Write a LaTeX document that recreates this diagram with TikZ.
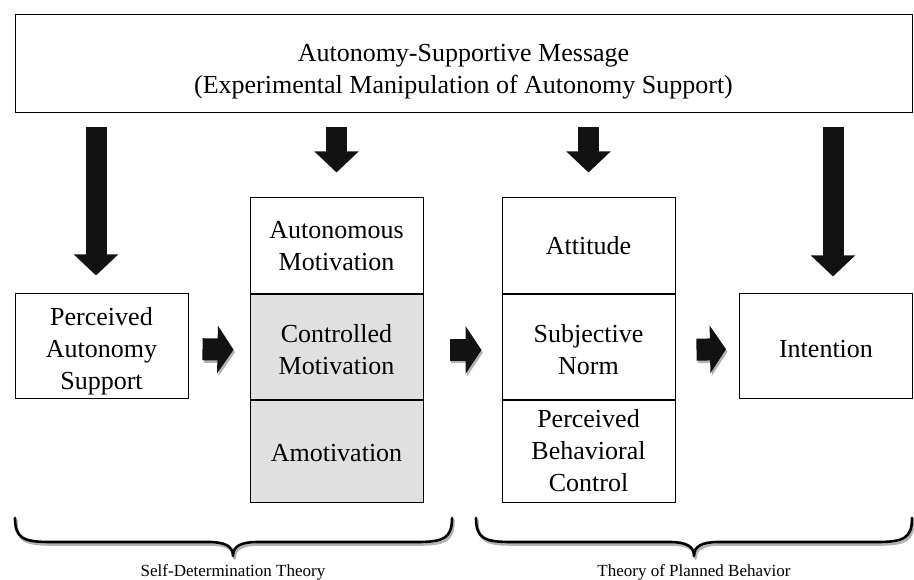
\documentclass[tikz,border=0pt]{standalone}
\usepackage{fontspec}
\setmainfont{Liberation Serif}
\usetikzlibrary{positioning, arrows.meta}

\newcommand{\lifted}[1]{\rule{0pt}{#1}}

\begin{document}
\begin{tikzpicture}[x=1pt, y=-1pt,
    box/.style={draw, line width=1pt, inner sep=0pt, minimum width=173pt, minimum height=104pt, align=center, font=\fontsize{26}{32}\selectfont},
    greybox/.style={box, fill=black!12},
    vfat/.style={line width=21pt, color=black!93, -{Triangle[length=21pt, width=43pt]}},
    hfat/.style={line width=22pt, color=black!93, -{Triangle[length=16pt, width=47pt]}},
    theory/.style={line width=2.6pt, line cap=round, line join=round},
    theorylabel/.style={font=\fontsize{17}{20}\selectfont}]
    \useasboundingbox (0,0) rectangle (914,580);

    \node[box, minimum width=897pt, minimum height=98pt] (msg) at (463.5,64) {\lifted{32pt}Autonomy-Supportive Message\\(Experimental Manipulation of Autonomy Support)};
    \node[box] (pas) at (101.5,346) {\lifted{28pt}Perceived\\Autonomy\\Support};
    \node[box, minimum height=96pt] (am) at (336.5,246) {Autonomous\\Motivation};
    \node[greybox, below=0pt of am] (cm) {\lifted{24pt}Controlled\\Motivation};
    \node[greybox, minimum height=102pt, below=0pt of cm] (amot) {\lifted{22pt}Amotivation};
    \node[box, minimum height=96pt, right=78pt of am] (att) {Attitude};
    \node[box, below=0pt of att] (sn) {\lifted{24pt}Subjective\\Norm};
    \node[box, minimum height=102pt, below=0pt of sn] (pbc) {Perceived\\Behavioral\\Control};
    \node[box] (int) at (826,346) {\lifted{24pt}Intention};

    % arrows out of the message
    \coordinate (pasin) at ([xshift=-5.5pt]pas.north);
    \coordinate (intin) at ([xshift=7pt]int.north);
    \draw[vfat, shorten <=14pt, shorten >=18pt] (msg.south -| pasin) -- (pasin);
    \draw[vfat, shorten <=14pt, shorten >=25pt] (msg.south -| am.north) -- (am.north);
    \draw[vfat, shorten <=14pt, shorten >=25pt] (msg.south -| att.north) -- (att.north);
    \draw[vfat, shorten <=14pt, shorten >=17pt] (msg.south -| intin) -- (intin);

    % arrows along the chain
    \foreach \a/\b/\s/\e in {pas/cm/14pt/16pt, cm/sn/26pt/20pt, sn/int/21pt/13pt} {
      \draw[hfat, black!30, transform canvas={xshift=1.5pt, yshift=-2.5pt}, shorten <=\s, shorten >=\e] ([yshift=-3pt]\a.east) -- ([yshift=-3pt]\b.west);
      \draw[hfat, shorten <=\s, shorten >=\e] ([yshift=-3pt]\a.east) -- ([yshift=-3pt]\b.west);
    }

    % braces
    \foreach \l/\m/\r in {15/233/452, 476/694/912} {
      \draw[theory, black!30, transform canvas={xshift=1.5pt, yshift=-2.5pt}] (\l,518) .. controls (\l,538) and (\l+8,542) .. (\l+35,542) -- (\m-25,542) .. controls (\m-8,542) and (\m,546) .. (\m,556) .. controls (\m,546) and (\m+8,542) .. (\m+25,542) -- (\r-35,542) .. controls (\r-8,542) and (\r,538) .. (\r,518);
      \draw[theory] (\l,518) .. controls (\l,538) and (\l+8,542) .. (\l+35,542) -- (\m-25,542) .. controls (\m-8,542) and (\m,546) .. (\m,556) .. controls (\m,546) and (\m+8,542) .. (\m+25,542) -- (\r-35,542) .. controls (\r-8,542) and (\r,538) .. (\r,518);
    }
    \node[theorylabel] (sdt) at (233,572) {Self-Determination Theory};
    \node[theorylabel] (tpb) at (694,572) {Theory of Planned Behavior};
\end{tikzpicture}
\end{document}
